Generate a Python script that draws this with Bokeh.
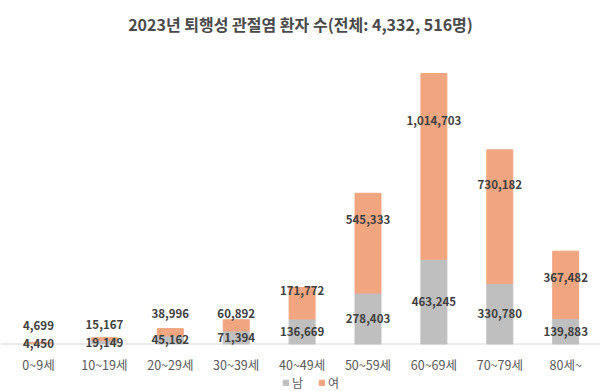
from bokeh.plotting import figure
from bokeh.models import (Range1d, ColumnDataSource, Legend, LegendItem, Span, Label)
from bokeh.core.properties import value
from bokeh.embed import file_html
from bokeh.resources import INLINE

categories = ["0~9세", "10~19세", "20~29세", "30~39세", "40~49세",
              "50~59세", "60~69세", "70~79세", "80세~"]
male = [4450, 19149, 45162, 71394, 136669, 278403, 463245, 330780, 139883]
female = [4699, 15167, 38996, 60892, 171772, 545333, 1014703, 730182, 367482]
# label anchor heights (data units) for the female labels, as placed in the source
female_label_y = [101000, 107000, 167000, 167000, 292000, 680000, 1221000, 872000, 363000]

title_text = "2023년 퇴행성 관절염 환자 수(전체: 4,332, 516명)"

GRAY = "#BFBFBF"
ORANGE = "#F2A680"
FONT = "Noto Sans CJK KR"

W, H = 600, 391
BASE_PX = 343.5        # baseline position from figure top (px)
PX_PER_UNIT = 1.83e-4  # vertical scale
CAT_GAP_PX = 20.5      # category labels below baseline
STEP_PX = 65.9         # category spacing
FIRST_PX = 38          # first category centre

xs = list(range(len(categories)))
total = [m + f for m, f in zip(male, female)]
src = ColumnDataSource(dict(
    x=xs, male=male, female=female, total=total,
    male_mid=[m / 2 for m in male],
    male_lbl=[f"{v:,}" for v in male],
    female_lbl=[f"{v:,}" for v in female],
    female_y=female_label_y,
    cat=categories,
    cat_y=[-CAT_GAP_PX / PX_PER_UNIT] * len(categories),
))

p = figure(width=W, height=H, output_backend="svg", toolbar_location=None,
           x_range=Range1d(-FIRST_PX / STEP_PX, (W - FIRST_PX) / STEP_PX),
           y_range=Range1d(-(H - BASE_PX) / PX_PER_UNIT, BASE_PX / PX_PER_UNIT),
           x_axis_type=None, y_axis_type=None,
           min_border=0)
p.outline_line_color = None
p.xgrid.visible = False
p.ygrid.visible = False

p.add_layout(Span(location=0, dimension="width", line_color="#D9D9D9",
                  line_width=1, level="underlay"))

w = 26 / STEP_PX
r_m = p.vbar(x="x", bottom=0, top="male", width=w, color=GRAY, source=src)
r_f = p.vbar(x="x", bottom="male", top="total", width=w, color=ORANGE, source=src)

common = dict(text_align="center", text_baseline="middle",
              text_font_size="11.5px", text_font_style="bold",
              text_color="#404040", text_font=value(FONT), source=src)
p.text(x="x", y="male_mid", text="male_lbl", **common)
p.text(x="x", y="female_y", text="female_lbl", **common)

p.text(x="x", y="cat_y", text="cat", text_align="center", text_baseline="middle",
       text_font_size="12.5px", text_color="#595959", text_font=value(FONT),
       source=src)

p.add_layout(Label(x=W / 2, y=H - 23, x_units="screen", y_units="screen",
                   text=title_text, text_align="center", text_baseline="middle",
                   text_font=FONT, text_font_size="16px", text_font_style="bold",
                   text_color="#4A4A4A"))

legend = Legend(items=[LegendItem(label="남", renderers=[r_m]),
                       LegendItem(label="여", renderers=[r_f])],
                orientation="horizontal", location=(282, 0),
                background_fill_alpha=0, border_line_color=None,
                padding=0, margin=0, spacing=6,
                glyph_width=7, glyph_height=7, label_standoff=3,
                label_height=12,
                label_text_font=FONT, label_text_font_size="12px",
                label_text_color="#595959")
p.add_layout(legend, "center")

open("out.html", "w").write(file_html(p, INLINE))
